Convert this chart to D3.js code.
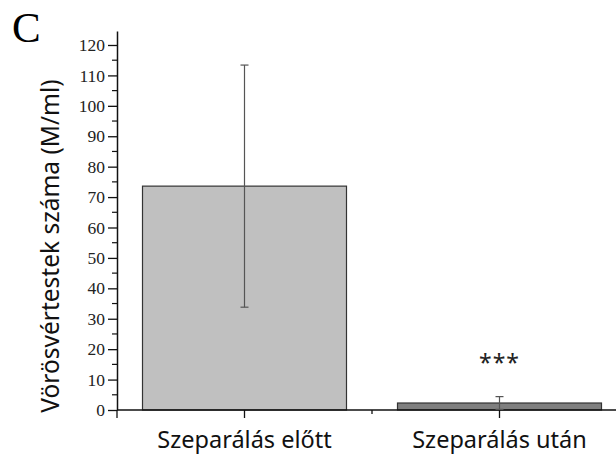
<!DOCTYPE html>
<html>
<head>
<meta charset="utf-8">
<script src="https://cdn.jsdelivr.net/npm/d3@7"></script>
<style>
  body { margin: 0; background: #fff; }
  svg { display: block; }
</style>
</head>
<body>
<div id="chart"></div>
<script>
// data
const categories = ["Szeparálás előtt", "Szeparálás után"];
const means = [73.6, 2.3];
const errors = [39.8, 2.1];
const barColors = ["#c0c0c0", "#7f7f7f"];
const significance = ["", "***"];
const yTicks = [0, 10, 20, 30, 40, 50, 60, 70, 80, 90, 100, 110, 120];

const width = 616, height = 457;
const marginLeft = 117, axisBottom = 410, axisTop = 31;

const svg = d3.select("#chart").append("svg")
    .attr("width", width)
    .attr("height", height);

const y = d3.scaleLinear()
    .domain([0, 124.6])
    .range([axisBottom, axisTop]);

const x = d3.scaleLinear()
    .domain([-0.5, 1.5])
    .range([marginLeft, 627]);

// y axis
const yAxis = svg.append("g")
    .attr("transform", `translate(${marginLeft},0)`)
    .call(d3.axisLeft(y).tickValues(yTicks).tickSize(9).tickPadding(3).tickSizeOuter(0));
yAxis.select(".domain").attr("stroke", "#111").attr("stroke-width", 1.5);
yAxis.selectAll(".tick line").attr("stroke", "#111").attr("stroke-width", 1.3);
yAxis.selectAll(".tick text")
    .attr("fill", "#222")
    .style("font-family", "'Liberation Serif', 'Times New Roman', serif")
    .style("font-size", "17.5px");

// minor ticks on y
svg.append("g")
    .selectAll("line")
    .data(d3.range(5, 125, 10))
    .enter().append("line")
    .attr("x1", marginLeft - 5)
    .attr("x2", marginLeft)
    .attr("y1", d => y(d))
    .attr("y2", d => y(d))
    .attr("stroke", "#111")
    .attr("stroke-width", 1.2);

// bars
const barW = 204;
svg.selectAll(".bar")
    .data(means)
    .enter().append("rect")
    .attr("class", "bar")
    .attr("x", (d, i) => x(i) - barW / 2)
    .attr("width", barW)
    .attr("y", d => y(d))
    .attr("height", d => y(0) - y(d))
    .attr("fill", (d, i) => barColors[i])
    .attr("stroke", "#333")
    .attr("stroke-width", 1.2);

// x axis line
svg.append("line")
    .attr("x1", marginLeft).attr("x2", width)
    .attr("y1", axisBottom).attr("y2", axisBottom)
    .attr("stroke", "#111").attr("stroke-width", 1.5);

// x ticks: major at categories, minor between
const xMajor = [-0.5, 0, 1];
svg.selectAll(".xmaj")
    .data(xMajor)
    .enter().append("line")
    .attr("x1", d => x(d)).attr("x2", d => x(d))
    .attr("y1", axisBottom).attr("y2", axisBottom + 8)
    .attr("stroke", "#111").attr("stroke-width", 1.3);
svg.append("line")
    .attr("x1", x(0.5)).attr("x2", x(0.5))
    .attr("y1", axisBottom).attr("y2", axisBottom + 4)
    .attr("stroke", "#111").attr("stroke-width", 1.3);

// error bars
const cap = 4;
const err = svg.append("g");
means.forEach((m, i) => {
    const cx = x(i);
    err.append("line")
        .attr("x1", cx).attr("x2", cx)
        .attr("y1", y(m + errors[i])).attr("y2", y(m - errors[i]))
        .attr("stroke", "#555").attr("stroke-width", 1.2);
    [m + errors[i], m - errors[i]].forEach(v => {
        err.append("line")
            .attr("x1", cx - cap).attr("x2", cx + cap)
            .attr("y1", y(v)).attr("y2", y(v))
            .attr("stroke", "#555").attr("stroke-width", 1.2);
    });
});

// significance stars
svg.selectAll(".sig")
    .data(significance)
    .enter().append("text")
    .attr("x", (d, i) => x(i))
    .attr("y", 371)
    .attr("text-anchor", "middle")
    .style("font-family", "'Noto Sans', sans-serif")
    .style("font-size", "23px")
    .style("letter-spacing", "1px")
    .attr("fill", "#222")
    .text(d => d);

// category labels
svg.selectAll(".cat")
    .data(categories)
    .enter().append("text")
    .attr("x", (d, i) => x(i))
    .attr("y", 448)
    .attr("text-anchor", "middle")
    .style("font-family", "'Noto Sans', sans-serif")
    .style("font-size", "23.5px")
    .attr("fill", "#111")
    .text(d => d);

// y label
svg.append("text")
    .attr("transform", "translate(59, 246) rotate(-90)")
    .attr("text-anchor", "middle")
    .style("font-family", "'Noto Sans', sans-serif")
    .style("font-size", "24.5px")
    .attr("fill", "#111")
    .text("Vörösvértestek száma (M/ml)");

// panel letter
svg.append("text")
    .attr("x", 12)
    .attr("y", 42)
    .style("font-family", "'Liberation Serif', 'Times New Roman', serif")
    .style("font-size", "43px")
    .attr("fill", "#000")
    .text("C");
</script>
</body>
</html>
